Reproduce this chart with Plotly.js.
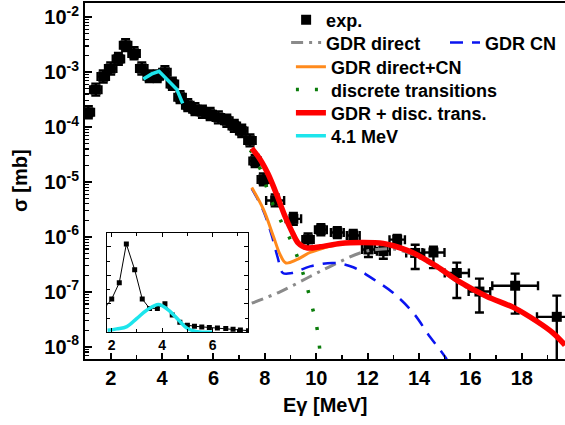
<!DOCTYPE html>
<html>
<head>
<meta charset="utf-8">
<script src="https://cdn.plot.ly/plotly-3.0.1.min.js"></script>
<style>html,body{margin:0;padding:0;background:#fff;}#chart{width:565px;height:425px;}</style>
</head>
<body>
<div id="chart"></div>
<script>
// ---- experimental data (E in MeV, sigma in mb) ----
const expE = [1.13, 1.42, 1.71, 2.00, 2.30, 2.58, 2.91, 3.21, 3.50, 3.81, 4.11, 4.40, 4.70, 5.00, 5.28, 5.57, 5.87, 6.19, 6.52, 6.81, 7.10, 7.42, 7.62, 7.94, 8.40, 9.11, 9.68, 10.18, 10.82, 11.44, 12.03, 12.61, 13.15, 13.85, 14.56, 15.47, 16.35, 17.74, 19.36];
const expS = [1.86e-4, 4.8e-4, 8.3e-4, 1.17e-3, 1.74e-3, 3.1e-3, 2.2e-3, 1.17e-3, 8.4e-4, 8.4e-4, 1.0e-3, 6.1e-4, 3.5e-4, 2.5e-4, 2.12e-4, 1.9e-4, 1.72e-4, 1.5e-4, 1.3e-4, 1.05e-4, 8.5e-5, 5.7e-5, 2.4e-5, 1.11e-5, 4.6e-6, 2.13e-6, 9.0e-7, 1.35e-6, 1.2e-6, 1.06e-6, 5.9e-7, 5.5e-7, 8.9e-7, 5.1e-7, 5.2e-7, 2.2e-7, 1.01e-7, 1.29e-7, 3.5e-8];
const expErrUp = [5.4e-5, 1.4e-4, 2.4e-4, 3.4e-4, 5.0e-4, 9.0e-4, 6.4e-4, 3.4e-4, 2.4e-4, 2.4e-4, 2.9e-4, 1.8e-4, 1.0e-4, 7.2e-5, 6.1e-5, 5.5e-5, 5.0e-5, 4.3e-5, 3.8e-5, 3.0e-5, 2.5e-5, 1.65e-5, 7.0e-6, 3.2e-6, 1.3e-6, 6.0e-7, 2.5e-7, 3.5e-7, 3.0e-7, 2.8e-7, 1.5e-7, 1.5e-7, 2.0e-7, 2.1e-7, 1.4e-7, 1.2e-7, 7.3e-8, 8.5e-8, 5.0e-8];
const expErrDn = [4.1e-5, 1.06e-4, 1.8e-4, 2.6e-4, 3.8e-4, 6.8e-4, 4.8e-4, 2.6e-4, 1.8e-4, 1.8e-4, 2.2e-4, 1.3e-4, 7.7e-5, 5.5e-5, 4.7e-5, 4.2e-5, 3.8e-5, 3.3e-5, 2.9e-5, 2.3e-5, 1.9e-5, 1.25e-5, 5.3e-6, 2.4e-6, 1.0e-6, 4.7e-7, 2.8e-7, 2.8e-7, 2.5e-7, 2.2e-7, 1.6e-7, 1.5e-7, 1.8e-7, 2.5e-7, 2.5e-7, 1.43e-7, 5.9e-8, 8.9e-8, 3.49e-8];
const expErrE = [0.22, 0.22, 0.22, 0.22, 0.22, 0.22, 0.22, 0.22, 0.22, 0.22, 0.22, 0.22, 0.22, 0.22, 0.22, 0.22, 0.22, 0.22, 0.22, 0.22, 0.22, 0.22, 0.22, 0.22, 0.35, 0.30, 0.22, 0.23, 0.25, 0.25, 0.25, 0.25, 0.30, 0.35, 0.43, 0.47, 0.42, 0.89, 0.77];

// ---- model curves ----
const gdrDirectE = [7.49, 8.59, 9.76, 10.67, 11.70, 12.35, 13.00, 13.78, 14.69, 15.60, 16.64, 17.67, 18.58, 19.23, 19.68];
const gdrDirectS = [6.2e-8, 1.0e-7, 1.9e-7, 3.1e-7, 5.1e-7, 5.9e-7, 6.0e-7, 4.7e-7, 2.75e-7, 1.4e-7, 8.0e-8, 5.1e-8, 2.9e-8, 1.75e-8, 1.07e-8];

const gdrCNE = [7.49, 7.94, 8.27, 8.50, 8.70, 9.05, 9.76, 10.67, 11.44, 12.22, 13.00, 13.78, 14.43, 14.82, 15.08];
const gdrCNS = [7.6e-6, 3.0e-6, 1.05e-6, 4.2e-7, 2.2e-7, 2.2e-7, 2.9e-7, 3.35e-7, 2.8e-7, 1.7e-7, 9.5e-8, 4.1e-8, 1.5e-8, 8.7e-9, 5.9e-9];

const gdrSumE = [7.49, 7.94, 8.33, 8.59, 8.82, 9.24, 9.76, 10.30, 10.93, 11.83, 12.61, 13.00, 13.78, 14.69, 15.60, 16.64, 17.67, 18.58, 19.23, 19.68];
const gdrSumS = [7.9e-6, 3.2e-6, 1.03e-6, 4.8e-7, 3.35e-7, 3.85e-7, 5.2e-7, 6.3e-7, 7.4e-7, 7.85e-7, 7.6e-7, 6.9e-7, 5.1e-7, 2.9e-7, 1.45e-7, 8.2e-8, 5.2e-8, 2.9e-8, 1.75e-8, 1.07e-8];

const discE = [7.42, 7.49, 7.88, 8.20, 8.66, 9.05, 9.37, 9.60, 9.82, 9.99, 10.11, 10.17];
const discS = [3.8e-5, 3.5e-5, 1.48e-5, 5.2e-6, 1.8e-6, 7.8e-7, 3.15e-7, 1.45e-7, 5.8e-8, 2.75e-8, 1.15e-8, 5.9e-9];

const totalE = [7.49, 7.81, 8.13, 8.46, 8.78, 9.05, 9.30, 9.63, 10.15, 10.93, 11.83, 12.61, 13.00, 13.78, 14.69, 15.60, 16.64, 17.67, 18.58, 19.23, 19.68];
const totalS = [4.1e-5, 2.6e-5, 1.38e-5, 5.9e-6, 2.4e-6, 1.26e-6, 7.7e-7, 6.3e-7, 6.6e-7, 7.6e-7, 7.9e-7, 7.6e-7, 6.9e-7, 5.1e-7, 2.9e-7, 1.5e-7, 8.2e-8, 5.2e-8, 2.9e-8, 1.75e-8, 1.07e-8];

const line41E = [3.27, 3.60, 3.88, 4.24, 4.57, 4.80];
const line41S = [7.5e-4, 9.3e-4, 1.04e-3, 7.0e-4, 4.9e-4, 2.7e-4];

// inset (linear scale): 4.1 MeV line
const insetLineE = [1.83, 2.20, 2.60, 3.00, 3.40, 3.85, 4.25, 4.65, 5.00, 5.40, 6.00];
const insetLineS = [7e-5, 1.2e-4, 2.0e-4, 4.9e-4, 7.8e-4, 9.8e-4, 7.8e-4, 4.3e-4, 1.3e-4, 2e-5, 0];
const insetCount = 22; // experimental points shown in the inset

// ---- tick labels and titles ----
const yTickVals = [1e-8, 1e-7, 1e-6, 1e-5, 1e-4, 1e-3, 1e-2];
const yTickText = ['10<sup>-8</sup>', '10<sup>-7</sup>', '10<sup>-6</sup>', '10<sup>-5</sup>', '10<sup>-4</sup>', '10<sup>-3</sup>', '10<sup>-2</sup>'];
const xTickVals = [2, 4, 6, 8, 10, 12, 14, 16, 18];
const insetTickVals = [2, 4, 6];
const xTitle = 'E\u03b3 [MeV]';
const yTitle = '\u03c3 [mb]';

const yMinor = [];
for (let d = -9; d <= -2; d++) for (let m = 2; m <= 9; m++) yMinor.push(m * Math.pow(10, d));

const FONT = 'Liberation Sans, Arial, sans-serif';
const legFont = {family: FONT, size: 18, color: '#000', weight: 'bold'};
const titleFont = {family: FONT, size: 20, color: '#000', weight: 'bold'};

const traces = [
  {x: expE, y: expS, name: 'exp.', type: 'scatter', mode: 'markers',
   marker: {symbol: 'square', size: 10, color: '#000'},
   error_y: {type: 'data', symmetric: false, array: expErrUp, arrayminus: expErrDn, color: '#000', thickness: 2.4, width: 4.5},
   error_x: {type: 'data', array: expErrE, color: '#000', thickness: 2.4, width: 4.5},
   legend: 'legend'},
  {x: gdrDirectE, y: gdrDirectS, name: 'GDR direct', type: 'scatter', mode: 'lines',
   line: {color: '#8a8a8a', width: 3, dash: '12px,6px,3px,6px', shape: 'spline'}, legend: 'legend2'},
  {x: gdrCNE, y: gdrCNS, name: 'GDR CN', type: 'scatter', mode: 'lines',
   line: {color: '#0a14f0', width: 2.5, dash: '13px,9px', shape: 'spline'}, legend: 'legend3'},
  {x: gdrSumE, y: gdrSumS, name: 'GDR direct+CN', type: 'scatter', mode: 'lines',
   line: {color: '#ff8a1c', width: 3, shape: 'spline'}, legend: 'legend4'},
  {x: discE, y: discS, name: 'discrete transitions', type: 'scatter', mode: 'lines',
   line: {color: '#0b7d0b', width: 3.5, dash: '3px,16px', shape: 'spline'}, legend: 'legend5'},
  {x: totalE, y: totalS, name: 'GDR + disc. trans.', type: 'scatter', mode: 'lines',
   line: {color: '#ff0000', width: 5.5, shape: 'spline', smoothing: 0.8}, legend: 'legend6'},
  {x: line41E, y: line41S, name: '4.1 MeV', type: 'scatter', mode: 'lines',
   line: {color: '#1de5ec', width: 3.5}, legend: 'legend7'},
  // inset
  {x: expE.slice(0, insetCount), y: expS.slice(0, insetCount), xaxis: 'x2', yaxis: 'y2', type: 'scatter', mode: 'lines+markers',
   line: {color: '#000', width: 1}, marker: {symbol: 'square', size: 5, color: '#000'}, showlegend: false},
  {x: insetLineE, y: insetLineS, xaxis: 'x2', yaxis: 'y2', type: 'scatter', mode: 'lines',
   line: {color: '#1de5ec', width: 3.5, shape: 'spline'}, showlegend: false}
];

function leg(x, y) {
  return {x: x, y: y, xanchor: 'left', yanchor: 'middle', bgcolor: 'rgba(0,0,0,0)', borderwidth: 0, font: legFont, tracegroupgap: 0};
}

const layout = {
  width: 565, height: 425,
  margin: {l: 85, r: 0, t: 3, b: 66},
  paper_bgcolor: '#fff', plot_bgcolor: '#fff',
  font: {family: FONT, color: '#000', weight: 'bold'},
  showlegend: true,
  xaxis: {
    range: [1.0, 19.68], tickmode: 'array', tickvals: xTickVals,
    ticks: 'inside', ticklen: 6, tickwidth: 2, tickcolor: '#000',
    minor: {dtick: 1, tick0: 0, ticks: 'inside', ticklen: 4, tickwidth: 1.5, tickcolor: '#000'},
    showline: true, linewidth: 2, linecolor: '#000', mirror: true,
    showgrid: false, zeroline: false, automargin: false,
    tickfont: {family: FONT, size: 20, color: '#000', weight: 'bold'}
  },
  yaxis: {
    type: 'log', range: [-8.224, -1.74], tickmode: 'array', tickvals: yTickVals, ticktext: yTickText,
    ticks: 'inside', ticklen: 7, tickwidth: 2, tickcolor: '#000',
    minor: {tickmode: 'array', tickvals: yMinor, ticks: 'inside', ticklen: 4, tickwidth: 1.2, tickcolor: '#000'},
    showline: true, linewidth: 2, linecolor: '#000', mirror: false,
    showgrid: false, zeroline: false, automargin: false,
    tickfont: {family: FONT, size: 20, color: '#000', weight: 'bold'}
  },
  xaxis2: {
    domain: [0.0465, 0.340], anchor: 'y2', range: [1.826, 7.41],
    tickmode: 'array', tickvals: insetTickVals,
    ticks: 'inside', ticklen: 4, tickwidth: 1, tickcolor: '#000',
    minor: {dtick: 1, tick0: 0, ticks: 'inside', ticklen: 3, tickwidth: 1, tickcolor: '#000'},
    showline: true, linewidth: 1, linecolor: '#000', mirror: 'ticks',
    showgrid: false, zeroline: false,
    tickfont: {family: FONT, size: 14, color: '#000', weight: 'bold'}
  },
  yaxis2: {
    domain: [0.075, 0.355], anchor: 'x2', range: [0, 3.5e-3],
    dtick: 1e-3, tick0: 0, showticklabels: false,
    ticks: 'inside', ticklen: 4, tickwidth: 1, tickcolor: '#000',
    minor: {dtick: 5e-4, tick0: 0, ticks: 'inside', ticklen: 3, tickwidth: 1, tickcolor: '#000'},
    showline: true, linewidth: 1, linecolor: '#000', mirror: 'ticks',
    showgrid: false, zeroline: false
  },
  annotations: [
    {text: xTitle, xref: 'paper', yref: 'paper', x: 0.5, y: -0.129, xanchor: 'center', yanchor: 'middle',
     showarrow: false, font: titleFont},
    {text: yTitle, xref: 'paper', yref: 'paper', x: -0.1354, y: 0.5, xanchor: 'center', yanchor: 'middle',
     textangle: -90, showarrow: false, font: titleFont}
  ],
  legend: leg(0.419, 0.952),
  legend2: leg(0.419, 0.888),
  legend3: leg(0.75, 0.888),
  legend4: leg(0.429, 0.820),
  legend5: leg(0.429, 0.756),
  legend6: leg(0.429, 0.691),
  legend7: leg(0.429, 0.626)
};

Plotly.newPlot('chart', traces, layout, {staticPlot: true, displayModeBar: false});
</script>
</body>
</html>
